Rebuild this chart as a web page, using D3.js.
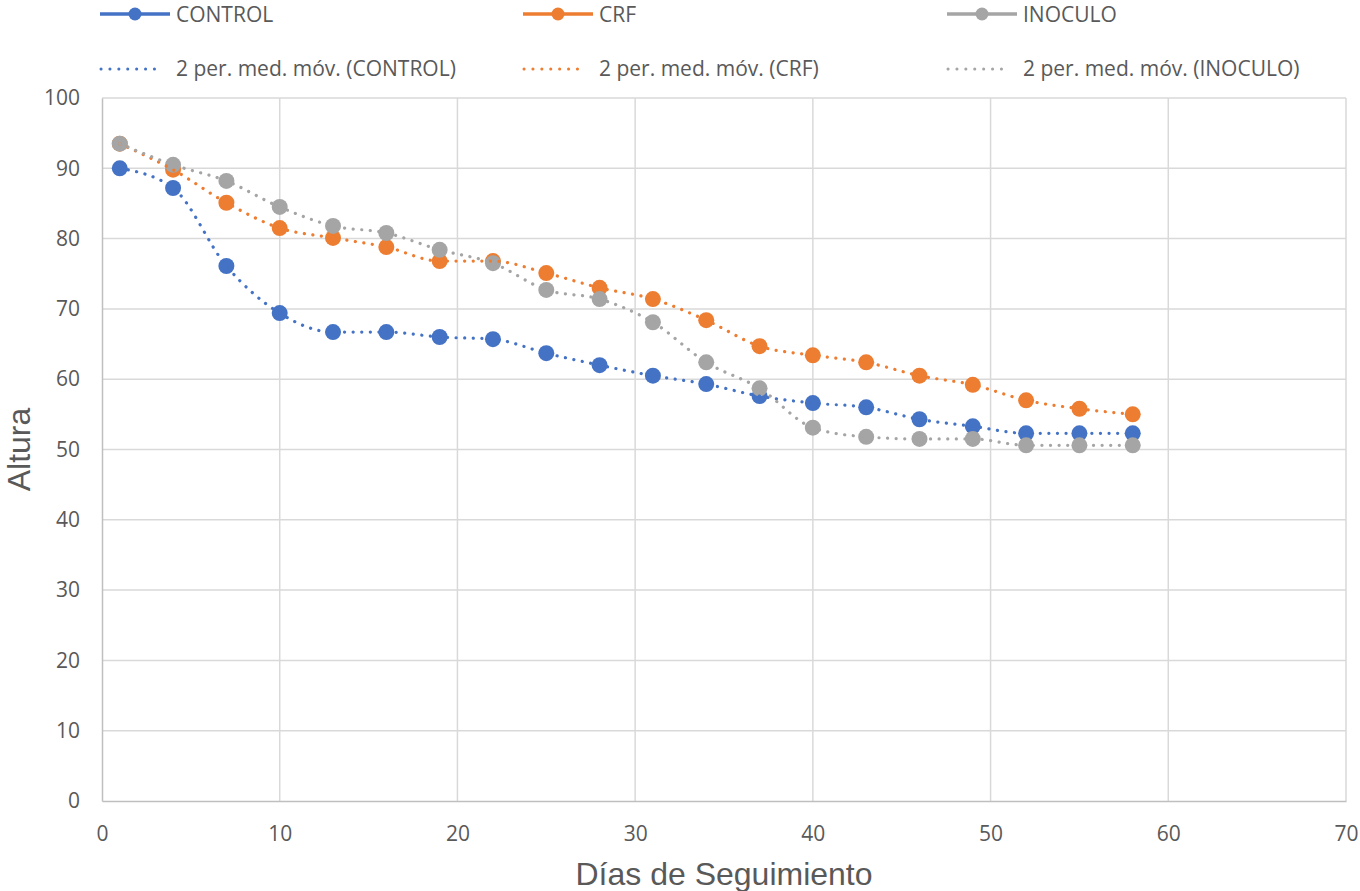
<!DOCTYPE html>
<html><head><meta charset="utf-8">
<script src="https://cdn.jsdelivr.net/npm/d3@7"></script>
<style>body{margin:0;background:#fff}</style>
</head><body><svg id="c" width="1360" height="891"></svg>
<script>
const days = [1,4,7,10,13,16,19,22,25,28,31,34,37,40,43,46,49,52,55,58];
const control = [90.0,87.2,76.1,69.4,66.7,66.7,66.0,65.7,63.7,62.0,60.5,59.3,57.6,56.6,56.0,54.3,53.3,52.3,52.3,52.3];
const crf = [93.5,89.8,85.1,81.5,80.1,78.8,76.8,76.8,75.1,73.0,71.4,68.4,64.7,63.4,62.4,60.5,59.2,57.0,55.8,55.0];
const inoculo = [93.5,90.5,88.2,84.5,81.8,80.8,78.4,76.5,72.7,71.4,68.1,62.4,58.7,53.1,51.8,51.5,51.5,50.6,50.6,50.6];
const seriesNames = ["CONTROL","CRF","INOCULO"];
const trendNames = ["2 per. med. móv. (CONTROL)","2 per. med. móv. (CRF)","2 per. med. móv. (INOCULO)"];
const colors = ["#4472C4","#ED7D31","#A5A5A5"];
const xTicks = [0,10,20,30,40,50,60,70];
const yTicks = [0,10,20,30,40,50,60,70,80,90,100];

const svg = d3.select("#c");
const L=102,R=1346,T=98,B=801;
const x = d3.scaleLinear().domain([0,70]).range([L,R]);
const y = d3.scaleLinear().domain([0,100]).range([B,T]);
const tf = "'Open Sans', sans-serif";
const af = "'Liberation Sans', Arial, sans-serif";

// gridlines
svg.append("g").selectAll("line").data(yTicks.filter(d=>d>0)).join("line")
  .attr("x1",L).attr("x2",R).attr("y1",d=>y(d)).attr("y2",d=>y(d))
  .attr("stroke","#d9d9d9").attr("stroke-width",1.5);
svg.append("g").selectAll("line").data(xTicks.filter(d=>d>0)).join("line")
  .attr("x1",d=>x(d)).attr("x2",d=>x(d)).attr("y1",T).attr("y2",B)
  .attr("stroke","#d9d9d9").attr("stroke-width",1.5);
// axes
const xa = svg.append("g").attr("transform",`translate(0,${B})`)
  .call(d3.axisBottom(x).tickValues(xTicks).tickSize(0).tickPadding(25));
const ya = svg.append("g").attr("transform",`translate(${L},0)`)
  .call(d3.axisLeft(y).tickValues(yTicks).tickSize(0).tickPadding(22));
[xa,ya].forEach(a=>{
  a.select(".domain").attr("stroke","#bfbfbf").attr("stroke-width",1.5);
  a.selectAll("text").attr("font-family",tf).attr("font-size",21).attr("fill","#595959");
});

const data = [control,crf,inoculo];
const line = d3.line().x((d,i)=>x(days[i])).y(d=>y(d)).curve(d3.curveMonotoneX);
data.forEach((vals,s)=>{
  svg.append("g").selectAll("circle").data(vals).join("circle")
    .attr("cx",(d,i)=>x(days[i])).attr("cy",d=>y(d)).attr("r",8)
    .attr("fill",colors[s]);
});
data.forEach((vals,s)=>{
  svg.append("path").datum(vals).attr("d",line).attr("fill","none")
    .attr("stroke",colors[s]).attr("stroke-width",3.2)
    .attr("stroke-linecap","round").attr("stroke-dasharray","0.1 8.5");
});

// axis titles
svg.append("text").attr("x",(L+R)/2).attr("y",885).attr("text-anchor","middle")
  .attr("font-family",af).attr("font-size",32).attr("fill","#595959")
  .text("Días de Seguimiento");
svg.append("text").attr("transform",`translate(30,${(T+B)/2}) rotate(-90)`).attr("text-anchor","middle")
  .attr("font-family",af).attr("font-size",32).attr("fill","#595959")
  .text("Altura");

// legend
const lx = [100,523,947];
seriesNames.forEach((n,i)=>{
  const g = svg.append("g");
  g.append("line").attr("x1",lx[i]).attr("x2",lx[i]+70).attr("y1",14).attr("y2",14)
    .attr("stroke",colors[i]).attr("stroke-width",3.5);
  g.append("circle").attr("cx",lx[i]+35).attr("cy",14).attr("r",6.5).attr("fill",colors[i]);
  g.append("text").attr("x",lx[i]+76).attr("y",22).attr("font-family",tf).attr("font-size",21)
    .attr("fill","#595959").text(n);
});
trendNames.forEach((n,i)=>{
  const g = svg.append("g");
  g.append("line").attr("x1",lx[i]+1).attr("x2",lx[i]+63).attr("y1",69).attr("y2",69)
    .attr("stroke",colors[i]).attr("stroke-width",3).attr("stroke-linecap","round")
    .attr("stroke-dasharray","0.1 8.8");
  g.append("text").attr("x",lx[i]+76).attr("y",76).attr("font-family",tf).attr("font-size",21)
    .attr("fill","#595959").text(n);
});
</script></body></html>
